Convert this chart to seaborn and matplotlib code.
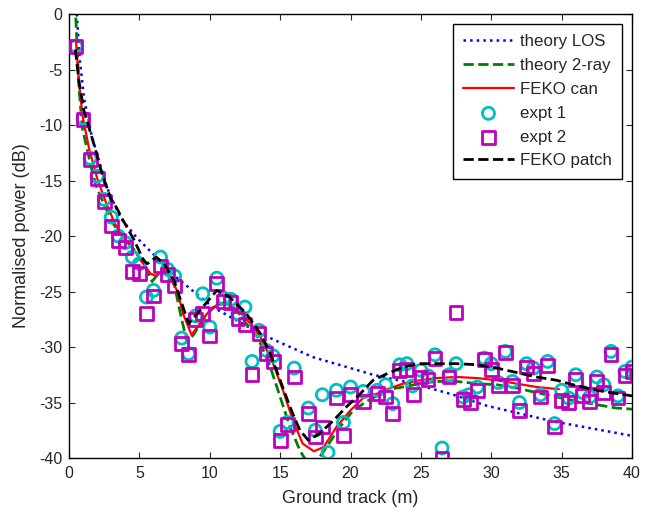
import numpy as np
import matplotlib
matplotlib.use("Agg")
import matplotlib.pyplot as plt
import seaborn as sns

# ---------------- data ----------------
los_x = [0.55, 0.78, 1.07, 1.54, 2.0, 2.72, 3.67, 4.85, 6.04, 7.7, 10.2, 13.6,
         17.3, 21.6, 24.5, 27.3, 29.7, 34.4, 40.0]
los_y = [0.0, -4.3, -7.6, -10.6, -12.7, -15.7, -18.4, -20.2, -21.7, -23.8, -26.4,
         -28.8, -30.9, -32.5, -33.3, -34.3, -35.3, -36.7, -38.0]

ray_x = [0.4, 0.47, 0.71, 0.95, 1.54, 1.9, 2.5, 3.2, 3.9, 4.74, 5.45, 5.9, 6.4,
         7.0, 7.5, 8.0, 8.4, 8.9, 9.5, 10.2, 11.0, 11.8, 12.6, 13.4, 14.3, 15.0,
         15.7, 16.4, 17.0, 17.6, 18.3, 19.25, 20.2, 21.15, 22.0, 22.8, 23.75,
         24.9, 26.1, 27.5, 29.0, 30.4, 31.8, 33.2, 34.65, 36.1, 37.5, 38.9, 40.0]
ray_y = [1.0, 0.0, -6.7, -10.3, -13.6, -15.4, -17.2, -19.0, -20.2, -21.4, -22.9,
         -24.1, -23.3, -23.2, -24.5, -27.5, -29.6, -28.8, -27.5, -26.5, -26.0,
         -26.5, -27.9, -29.1, -31.8, -34.5, -37.2, -39.3, -40.6, -40.3, -39.0,
         -37.2, -35.7, -34.9, -34.3, -33.8, -33.6, -33.3, -33.1, -33.1, -33.3,
         -33.4, -33.7, -34.1, -34.5, -34.9, -35.2, -35.5, -35.6]

can_x = [0.5, 0.7, 0.95, 1.42, 2.0, 2.6, 3.3, 4.14, 4.85, 5.33, 5.8, 6.2, 6.7,
         7.2, 7.7, 8.1, 8.7, 9.3, 9.8, 10.5, 11.2, 12.1, 13.1, 13.6, 14.5, 15.2,
         15.9, 16.6, 17.4, 18.1, 19.0, 20.0, 20.9, 21.9, 22.8, 23.75, 24.9, 26.1,
         27.5, 29.0, 30.4, 31.8, 33.2, 34.8]
can_y = [-2.5, -6.0, -9.1, -12.1, -14.8, -16.9, -19.0, -20.5, -21.7, -22.6,
         -23.4, -23.6, -23.1, -23.7, -25.0, -27.0, -28.9, -27.9, -27.0, -26.2,
         -26.1, -26.8, -28.2, -29.1, -31.5, -33.9, -36.6, -38.7, -39.4, -39.0,
         -37.2, -35.7, -34.6, -34.2, -33.7, -33.3, -33.0, -32.8, -32.7, -32.8,
         -33.0, -33.3, -33.6, -33.8]

patch_x = [0.45, 0.71, 1.07, 1.3, 1.78, 2.37, 2.96, 3.4, 3.8, 4.6, 5.3, 5.56,
           6.2, 6.75, 7.46, 7.8, 8.5, 9.3, 10.5, 11.4, 12.6, 13.6, 14.3, 15.0,
           15.7, 16.4, 17.0, 17.8, 18.8, 19.7, 20.7, 21.6, 22.6, 23.75, 24.9,
           26.1, 27.5, 29.0, 30.4, 31.8, 33.2, 34.65, 36.1, 37.5, 38.9, 40.0]
patch_y = [-3.2, -6.1, -8.8, -9.7, -11.8, -14.5, -16.6, -17.5, -18.5, -20.3,
           -22.2, -22.5, -21.9, -22.5, -24.0, -25.3, -27.9, -26.7, -24.9, -25.5,
           -27.0, -28.8, -30.6, -33.0, -35.4, -37.5, -38.4, -37.8, -36.6, -35.4,
           -34.2, -33.0, -32.4, -31.8, -31.5, -31.5, -31.5, -31.6, -31.9, -32.3,
           -32.7, -33.0, -33.5, -33.9, -34.2, -34.4]

e1_x = [0.5, 1.0, 1.5, 2.0, 2.5, 3.0, 3.5, 4.0, 4.5, 5.0, 5.5, 6.0, 6.5, 7.0,
        7.5, 8.0, 8.5, 9.0, 9.5, 10.0, 10.5, 11.0, 11.5, 12.0, 12.5, 13.0, 13.5,
        14.0, 14.5, 15.0, 15.5, 16.0, 17.0, 17.5, 18.0, 18.4, 19.0, 19.5, 20.0,
        20.9, 21.9, 22.5, 23.0, 23.5, 24.0, 24.4, 25.0, 25.5, 26.0, 26.5, 27.0,
        27.5, 28.0, 28.4, 29.0, 29.5, 30.0, 30.5, 31.0, 31.5, 32.0, 32.5, 33.0,
        33.5, 34.0, 34.5, 35.0, 35.5, 36.0, 36.5, 37.0, 37.5, 38.0, 38.5, 39.0,
        39.5, 40.0]
e1_y = [-2.9, -9.4, -13.0, -14.6, -16.7, -18.3, -20.0, -20.6, -21.9, -22.5,
        -25.5, -24.9, -21.9, -23.0, -23.6, -29.2, -30.6, -27.2, -25.2, -28.2,
        -23.8, -25.6, -25.7, -27.0, -26.4, -31.3, -28.5, -30.3, -30.8, -37.6,
        -36.8, -31.9, -35.5, -37.5, -34.3, -39.5, -33.9, -36.8, -33.6, -34.0,
        -33.9, -33.4, -35.1, -31.6, -31.5, -33.5, -32.1, -32.6, -30.7, -39.1,
        -32.5, -31.5, -34.5, -34.3, -33.6, -31.0, -31.5, -33.2, -30.4, -33.1,
        -35.0, -31.5, -31.9, -34.3, -31.3, -36.9, -33.9, -34.6, -32.5, -34.1,
        -34.5, -32.7, -33.4, -30.4, -34.4, -32.2, -31.8]

e2_x = [0.5, 1.0, 1.5, 2.0, 2.5, 3.0, 3.5, 4.0, 4.5, 5.0, 5.5, 6.0, 6.5, 7.0,
        7.5, 8.0, 8.5, 9.0, 9.5, 10.0, 10.5, 11.0, 11.5, 12.0, 12.5, 13.0, 13.5,
        14.0, 14.5, 15.0, 15.5, 16.0, 17.0, 17.5, 18.0, 19.0, 19.5, 20.0, 20.9,
        21.9, 22.5, 23.0, 23.5, 24.0, 24.5, 25.0, 25.5, 26.0, 26.5, 27.0, 27.5,
        28.0, 28.5, 29.0, 29.5, 30.0, 30.5, 31.0, 31.5, 32.0, 32.5, 33.0, 33.5,
        34.0, 34.5, 35.0, 35.5, 36.0, 36.5, 37.0, 37.5, 38.0, 38.5, 39.0, 39.5,
        40.0]
e2_y = [-2.9, -9.5, -13.1, -14.8, -16.9, -19.1, -20.4, -21.0, -23.2, -23.4,
        -27.0, -25.4, -22.7, -23.5, -24.5, -29.7, -30.7, -27.5, -27.0, -29.0,
        -24.3, -25.9, -26.0, -27.4, -28.0, -32.5, -28.8, -30.6, -31.3, -38.4,
        -37.0, -32.7, -36.0, -38.1, -37.2, -34.6, -38.0, -34.3, -34.9, -34.2,
        -34.5, -36.0, -32.1, -32.0, -34.3, -32.7, -32.9, -31.0, -40.0, -32.7,
        -26.9, -34.7, -35.0, -33.9, -31.1, -32.0, -33.5, -30.5, -33.5, -35.7,
        -31.8, -32.4, -34.5, -31.7, -37.2, -34.8, -35.0, -32.9, -34.4, -34.9,
        -33.1, -34.1, -30.7, -34.6, -32.6, -32.2]

xticks = [0, 5, 10, 15, 20, 25, 30, 35, 40]
yticks = [0, -5, -10, -15, -20, -25, -30, -35, -40]

# ---------------- plotting ----------------
sns.set_style("white")
plt.rcParams['font.family'] = ['Liberation Sans', 'DejaVu Sans']

fig = plt.figure(figsize=(6.53, 5.11), dpi=100)
ax = fig.add_axes([0.1057, 0.1037, 0.8622, 0.8689])

sns.lineplot(x=los_x, y=los_y, ax=ax, color=(0, 0, 1), linestyle=':',
             linewidth=1.8, label='theory LOS', sort=False)
sns.lineplot(x=ray_x, y=ray_y, ax=ax, color=(0, 0.5, 0), linestyle='--',
             linewidth=2, label='theory 2-ray', sort=False)
sns.lineplot(x=can_x, y=can_y, ax=ax, color=(1, 0, 0), linestyle='-',
             linewidth=1.6, label='FEKO can', sort=False)
sns.scatterplot(x=e1_x, y=e1_y, ax=ax, marker='o', s=75, facecolors='none',
                edgecolors=(0, 0.75, 0.75), linewidths=2, label='expt 1', zorder=3)
sns.scatterplot(x=e2_x, y=e2_y, ax=ax, marker='s', s=85, facecolors='none',
                edgecolors=(0.75, 0, 0.75), linewidths=2, label='expt 2', zorder=3)
sns.lineplot(x=patch_x, y=patch_y, ax=ax, color='black', linestyle='--',
             linewidth=2, label='FEKO patch', sort=False, zorder=4)

ax.set_xlim(0, 40)
ax.set_ylim(-40, 0)
ax.set_xticks(xticks)
ax.set_yticks(yticks)
ax.set_xticklabels([str(t) for t in xticks], fontsize=11.5)
ax.set_yticklabels([str(t) for t in yticks], fontsize=11.5)
ax.tick_params(direction='in', length=4, width=0.8, top=True, right=True,
               bottom=True, left=True)
ax.tick_params(axis='x', pad=6)
ax.tick_params(axis='y', pad=5)
for s in ax.spines.values():
    s.set_visible(True)
    s.set_color('black')
    s.set_linewidth(1.0)

ax.set_xlabel('Ground track (m)', fontsize=13, labelpad=6)
ax.set_ylabel('Normalised power (dB)', fontsize=13, labelpad=6)

leg = ax.legend(loc='upper right', fontsize=12.2, frameon=True, fancybox=False,
                edgecolor='black', framealpha=1, handlelength=3.0,
                borderaxespad=0.6, labelspacing=0.52, handletextpad=0.35,
                borderpad=0.6)
leg.get_frame().set_linewidth(1.0)

fig.savefig('out.png', dpi=100)
